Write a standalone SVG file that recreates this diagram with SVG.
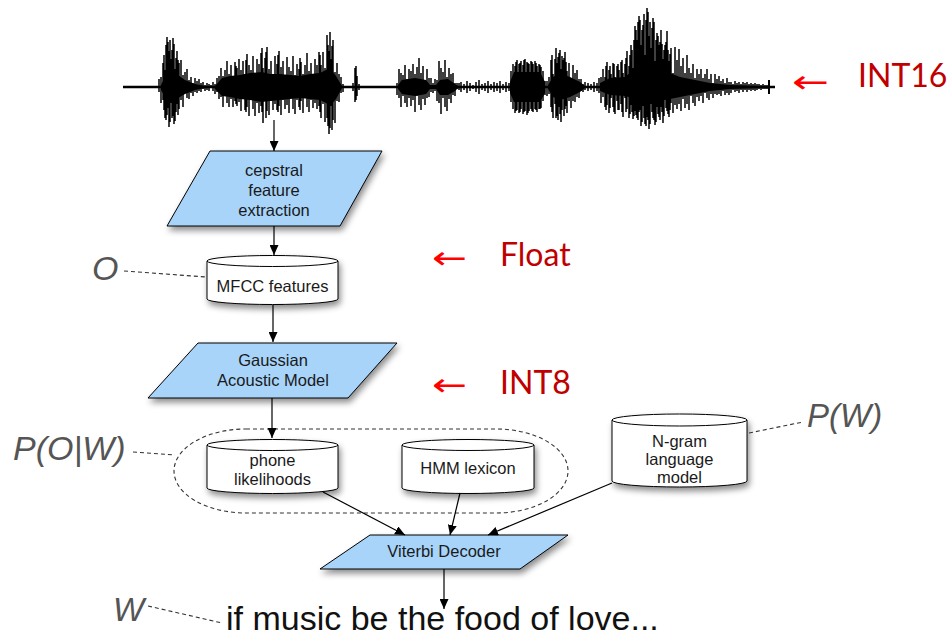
<svg xmlns="http://www.w3.org/2000/svg" width="952" height="637" viewBox="0 0 952 637">
  <defs>
    <filter id="shadow" x="-20%" y="-20%" width="150%" height="170%">
      <feDropShadow dx="2" dy="4" stdDeviation="3" flood-color="#000" flood-opacity="0.45"/>
    </filter>
    <marker id="arrow" markerUnits="userSpaceOnUse" markerWidth="10" markerHeight="9" refX="10" refY="4.5" orient="auto">
      <path d="M0,0 L10,4.5 L0,9 z" fill="#000"/>
    </marker>
  </defs>
  <style>
    .proc { fill: #a8d4fa; stroke: #000; stroke-width: 1; filter: url(#shadow); }
    .store { fill: #fff; stroke: #000; stroke-width: 1; filter: url(#shadow); }
    .rim { fill: none; stroke: #000; stroke-width: 1; }
    .lbl { font-family: "Liberation Sans", Arial, sans-serif; font-size: 16.5px; fill: #1a1a1a; text-anchor: middle; }
    .var { font-family: "Liberation Sans", Arial, sans-serif; font-style: italic; fill: #555; }
    .red { font-family: Lato, "Liberation Sans", sans-serif; font-size: 32px; fill: #c00000; }
    .larr { font-family: "DejaVu Sans", sans-serif; font-size: 32px; fill: #ff0000; }
    .edge { fill: none; stroke: #000; stroke-width: 1.2; marker-end: url(#arrow); }
    .dash { fill: none; stroke: #333; stroke-width: 1.1; stroke-dasharray: 4 3; }
    .wave { fill: none; stroke: #000; stroke-width: 1.5; }
  </style>

  <!-- speech waveform: baseline, dense cores and individual sample strokes -->
  <g id="waveform">
    <path d="M123 87H775" stroke="#000" stroke-width="2.5"/>
    <path d="M769 80V94" stroke="#000" stroke-width="2"/>
    <g fill="#000">
      <polygon points="161,85 165,77 170,73 178,75 185,80 195,84 205,86 205,88 195,90 185,94 178,98 170,99 165,97 161,90"/>
      <polygon points="215,86 222,78 230,76 240,75 250,73 262,72 270,74 280,74 290,75 300,76 310,74 320,73 326,70 330,68 336,76 342,86 342,88 336,99 330,106 326,103 320,100 310,99 300,98 290,99 280,100 270,101 262,102 250,100 240,99 230,97 222,96 215,89"/>
      <polygon points="398,85 402,80 415,78 426,80 430,85 436,85 440,80 448,79 455,84 458,86 458,88 455,91 448,95 440,95 436,89 430,89 426,94 415,96 402,94 398,89"/>
      <polygon points="510,82 514,72 540,72 545,82 545,93 540,102 514,102 510,93"/>
      <polygon points="548,85 553,77 560,73 570,77 580,82 585,86 585,88 580,92 570,97 560,100 553,97 548,89"/>
      <polygon points="600,83 610,78 625,77 632,71 640,66 650,63 660,67 670,73 680,77 695,80 710,83 730,85 760,86 760,88 730,89 710,91 695,94 680,97 670,99 660,101 650,102 640,100 632,98 625,96 610,95 600,91"/>
    </g>
    <path class="wave" d="M159 79V92M161 77V103M163 63V100M165 70V118M167 37V115M169 51V127M171 59V103M173 38V116M175 69V121M177 51V104M179 63V109M181 60V100M183 75V107M185 72V93M187 69V98M189 80V99M191 77V93M193 83V96M195 78V92M197 81V93M199 79V91M201 83V92M203 82V89M205 85V91M207 83V90M209 84V91M211 85V88
      M166 45V120M170 40V122M172 50V118M174 44V124M176 58V112M178 60V115M164 55V110M168 42V108"/>
    <path class="wave" d="M213 82V91M215 84V94M217 78V92M219 76V99M221 68V97M223 76V107M225 70V94M227 61V103M229 74V107M231 65V99M233 79V107M235 62V101M237 68V106M239 59V102M241 70V111M243 61V99M245 74V110M247 54V107M249 65V116M251 70V99M253 56V109M255 74V116M257 59V103M259 64V113M261 53V106M263 68V123M265 58V100M267 47V111M269 69V115M271 61V101M273 77V110M275 56V104M277 64V110M279 51V106M281 67V115M283 61V100M285 75V109M287 57V105M289 67V113M291 71V98M293 56V109M295 75V114M297 64V100M299 69V107M301 62V101M303 74V113M305 65V97M307 53V107M309 71V112M311 63V100M313 78V108M315 59V103M317 65V109M319 52V106M321 65V118M323 52V104M325 68V122M327 35V118M329 51V134M331 59V106M333 40V120M335 72V123M337 63V101M339 74V102M341 77V93M343 84V92
      M262 48V112M266 52V118M330 32V128M328 45V126M332 46V130M278 55V112M300 58V110M320 55V112M246 60V112M236 66V104"/>
    <path class="wave" d="M353 83V91M355 68V102M356 66V100M357 76V96M359 84V90"/>
    <path class="wave" d="M397 83V95M399 69V98M401 73V107M403 75V96M405 65V103M407 79V107M409 69V98M411 71V106M413 64V100M415 74V112M417 67V96M419 58V105M421 73V110M423 66V99M425 80V105M427 69V98M429 78V97M431 78V92M433 83V93M435 79V91M437 80V101M439 61V103M441 68V114M443 72V98M445 60V107M447 77V111M449 68V99M451 74V103M453 73V95M455 83V96M457 83V89M459 83V90"/>
    <path class="wave" d="M461 82V92M464 84V90M467 81V93M470 83V91M473 85V89M476 82V92M479 80V94M482 84V90M485 83V91M488 81V93M491 84V90M494 82V92M497 83V91M500 81V93M503 84V90M506 82V92M509 83V91"/>
    <path class="wave" d="M511 71V102M513 64V109M515 66V113M517 60V110M519 64V113M521 61V109M523 65V114M525 59V111M527 62V115M529 64V111M531 61V109M533 64V112M535 61V109M537 66V112M539 64V109M541 67V108M543 71V101M545 81V95
      M516 62V111M520 63V112M524 60V112M528 63V113M532 62V111M536 63V110M540 65V109"/>
    <path class="wave" d="M547 81V96M549 77V94M551 60V107M553 74V118M555 59V104M557 63V116M559 53V107M561 69V122M563 60V99M565 52V109M567 71V113M569 63V101M571 79V108M573 65V101M575 73V102M577 70V97M579 79V98M581 79V91M583 84V92M585 82V90
      M552 55V112M556 48V118M558 57V120M560 50V114M562 56V110M564 58V116M566 62V106"/>
    <path class="wave" d="M588 83V91M591 84V90M594 82V92M597 83V91"/>
    <path class="wave" d="M599 78V93M601 77V103M603 69V97M605 77V107M607 62V105M609 70V113M611 74V98M613 63V107M615 77V114M617 66V101M619 70V110M621 62V104M623 73V117M625 64V98M627 51V109M629 66V118M631 45V105M633 68V119M635 26V111M637 40V118M639 16V112M641 45V126M643 25V106M645 55V124M647 8V117M649 36V129M651 48V104M653 18V118M655 61V125M657 33V107M659 45V117M661 30V107M663 59V123M665 45V99M667 31V111M669 61V117M671 48V103M673 73V113M675 47V105M677 60V109M679 49V104M681 66V111M683 58V99M685 73V108M687 55V104M689 68V110M691 73V96M693 64V103M695 78V106M697 69V97M699 74V101M701 69V96M703 78V103M705 74V93M707 69V98M709 79V100M711 74V94M713 83V98M715 74V94M717 79V95M719 76V94M721 81V96M723 79V91M725 83V95M727 78V93M729 82V95
      M636 30V115M638 22V120M640 20V110M642 30V122M644 14V118M646 20V126M648 12V120M650 22V124M652 28V112M654 22V120M656 40V122M658 36V114M660 42V120M662 44V112M632 50V112M634 40V116M664 50V116M666 42V108M668 50V114M670 54V110
      M606 66V110M610 66V108M614 64V112M618 64V110M622 60V112M626 58V112M630 55V114"/>
    <path class="wave" d="M731 82V93M733 84V90M735 81V92M737 83V91M739 82V93M741 84V90M743 82V92M745 83V90M747 82V92M749 84V90M751 83V91M753 84V90M755 83V91M757 84V90M759 84V89M761 85V90M763 84V89M765 85V89M767 85V89"/>
  </g>

  <!-- processing steps -->
  <g id="cepstral">
    <polygon class="proc" points="210,151 382,151 340,226 167,226"/>
    <text class="lbl" x="274" y="176">cepstral</text>
    <text class="lbl" x="274" y="196">feature</text>
    <text class="lbl" x="274" y="216">extraction</text>
  </g>

  <g id="mfcc">
    <path class="store" d="M207 261A65.5 5.5 0 0 1 338 261V299A65.5 5.5 0 0 1 207 299Z"/>
    <path class="rim" d="M207 261A65.5 5.5 0 0 0 338 261"/>
    <text class="lbl" x="272.5" y="292">MFCC features</text>
  </g>

  <g id="gaussian">
    <polygon class="proc" points="198,343 397,343 348,398 148,398"/>
    <text class="lbl" x="273" y="366">Gaussian</text>
    <text class="lbl" x="273" y="386">Acoustic Model</text>
  </g>

  <g id="phone">
    <path class="store" d="M207 445A65.5 5.5 0 0 1 338 445V488A65.5 5.5 0 0 1 207 488Z"/>
    <path class="rim" d="M207 445A65.5 5.5 0 0 0 338 445"/>
    <text class="lbl" x="272.5" y="466">phone</text>
    <text class="lbl" x="272.5" y="485">likelihoods</text>
  </g>

  <g id="hmm">
    <path class="store" d="M402 445A66 5.5 0 0 1 534 445V488A66 5.5 0 0 1 402 488Z"/>
    <path class="rim" d="M402 445A66 5.5 0 0 0 534 445"/>
    <text class="lbl" x="468" y="474">HMM lexicon</text>
  </g>

  <g id="ngram">
    <path class="store" d="M612 420A67.5 6 0 0 1 747 420V481A67.5 6 0 0 1 612 481Z"/>
    <path class="rim" d="M612 420A67.5 6 0 0 0 747 420"/>
    <text class="lbl" x="679.5" y="447">N-gram</text>
    <text class="lbl" x="679.5" y="465">language</text>
    <text class="lbl" x="679.5" y="483">model</text>
  </g>

  <g id="viterbi">
    <polygon class="proc" points="370,535 568,535 520,569 320,569"/>
    <text class="lbl" x="444" y="557">Viterbi Decoder</text>
  </g>

  <!-- grouping of the acoustic-model outputs -->
  <g id="likelihood-group">
    <rect class="dash" x="174" y="429" width="394" height="84" rx="72" ry="42" stroke-dasharray="6 4"/>
  </g>

  <!-- connectors -->
  <g id="connectors">
    <path class="edge" d="M274 120V151"/>
    <path class="edge" d="M274 226V255"/>
    <path class="edge" d="M273 305V342"/>
    <path class="edge" d="M272 398V438"/>
    <path class="edge" d="M323 492L405 535"/>
    <path class="edge" d="M460 493L450 535"/>
    <path class="edge" d="M612 483L488 535"/>
    <path class="edge" d="M444 569V609"/>
    <path class="dash" d="M124 271L206 277"/>
    <path class="dash" d="M133 452L175 455"/>
    <path class="dash" d="M749 433L803 422"/>
    <path class="dash" d="M148 606L222 623"/>
  </g>

  <!-- variable names -->
  <g id="labels">
    <text class="var" x="92" y="280" font-size="34">O</text>
    <text class="var" x="13" y="460" font-size="34">P(O|W)</text>
    <text class="var" x="807" y="427" font-size="33">P(W)</text>
    <text class="var" x="113" y="621" font-size="33">W</text>
    <text x="226" y="630" font-family="Liberation Sans, Arial, sans-serif" font-size="34" fill="#111">if music be the food of love...</text>
  </g>

  <!-- numeric precision notes -->
  <g id="precision">
    <text class="larr" x="792" y="93" textLength="37" lengthAdjust="spacingAndGlyphs">←</text>
    <text class="red" x="858" y="87">INT16</text>
    <text class="larr" x="432" y="269" textLength="35" lengthAdjust="spacingAndGlyphs">←</text>
    <text class="red" x="500" y="266">Float</text>
    <text class="larr" x="432" y="396" textLength="35" lengthAdjust="spacingAndGlyphs">←</text>
    <text class="red" x="500" y="394">INT8</text>
  </g>
</svg>
